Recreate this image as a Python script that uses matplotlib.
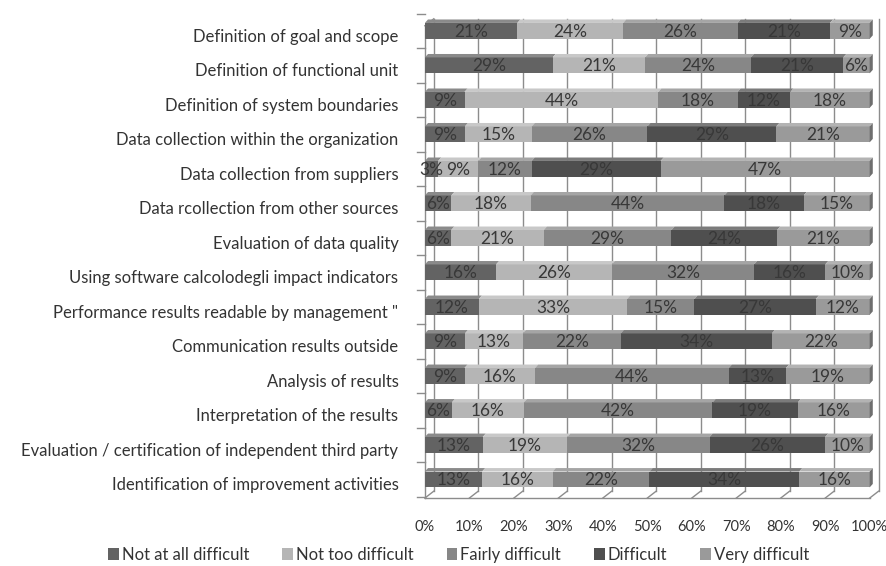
import numpy as np
import matplotlib.pyplot as plt
from matplotlib.patches import Polygon, Patch
from matplotlib.colors import to_rgb

plt.rcParams['font.family'] = ['Lato', 'DejaVu Sans']

categories = [
    "Definition of goal and scope",
    "Definition of functional unit",
    "Definition of system boundaries",
    "Data collection within the organization",
    "Data collection from suppliers",
    "Data rcollection from other sources",
    "Evaluation of data quality",
    "Using software calcolodegli impact indicators",
    "Performance results readable by management \"",
    "Communication results outside",
    "Analysis of results",
    "Interpretation of the results",
    "Evaluation / certification of independent third party",
    "Identification of improvement activities",
]
series_names = ["Not at all difficult", "Not too difficult", "Fairly difficult",
                "Difficult", "Very difficult"]
not_at_all = [21, 29, 9, 9, 3, 6, 6, 16, 12, 9, 9, 6, 13, 13]
not_too = [24, 21, 44, 15, 9, 18, 21, 26, 33, 13, 16, 16, 19, 16]
fairly = [26, 24, 18, 26, 12, 44, 29, 32, 15, 22, 44, 42, 32, 22]
difficult = [21, 21, 12, 29, 29, 18, 24, 16, 27, 34, 13, 19, 26, 34]
very = [9, 6, 18, 21, 47, 15, 21, 10, 12, 22, 19, 16, 10, 16]
xticks = ["0%", "10%", "20%", "30%", "40%", "50%", "60%", "70%", "80%", "90%", "100%"]

colors = ["#636363", "#b5b5b5", "#878787", "#4f4f4f", "#9a9a9a"]


def lighter(c, f=0.25):
    r, g, b = to_rgb(c)
    return (r + (1 - r) * f, g + (1 - g) * f, b + (1 - b) * f)


def main():
    data = np.array([not_at_all, not_too, fairly, difficult, very], dtype=float)
    shares = data / data.sum(axis=0)
    n = len(categories)
    ypos = np.arange(n)

    fig = plt.figure(figsize=(8.87, 5.66), dpi=100)
    ax = fig.add_axes([0.479, 0.12, 0.514, 0.859])
    ax.set_xlim(0, 1.025)
    ax.set_ylim(13.54, -0.55)

    h = 0.46
    dx, dy = 0.007, 0.1
    wdx, wdy = 0.02, 0.2
    ybot, ytop = 13.54, -0.35

    # back wall gridlines and floor
    for k in range(11):
        x = k / 10
        ax.plot([x + wdx, x + wdx], [ybot - wdy, ytop], color="#8c8c8c", lw=1, zorder=1)
        ax.plot([x, x + wdx], [ybot, ybot - wdy], color="#8c8c8c", lw=1, zorder=1, clip_on=False)
    ax.plot([0, 1], [ybot, ybot], color="#8c8c8c", lw=1, clip_on=False)
    ax.plot([0, 0], [ybot, ytop + wdy], color="#8c8c8c", lw=1, clip_on=False)
    ax.plot([0, wdx], [ytop + wdy, ytop], color="#8c8c8c", lw=1, clip_on=False)
    for b in np.arange(-0.5, n, 1.0):
        ax.plot([-0.018, 0], [b, b], color="#8c8c8c", lw=1, clip_on=False)

    left = np.zeros(n)
    for s in range(5):
        w = shares[s]
        ax.barh(ypos, w, left=left, height=h, color=colors[s], zorder=3)
        for i in range(n):
            x0, x1 = left[i], left[i] + w[i]
            yt = ypos[i] - h / 2
            top = Polygon([[x0, yt], [x1, yt], [x1 + dx, yt - dy], [x0 + dx, yt - dy]],
                          closed=True, facecolor=lighter(colors[s]), edgecolor="none", zorder=3)
            ax.add_patch(top)
            if s == 4:
                side = Polygon([[x1, yt], [x1 + dx, yt - dy], [x1 + dx, ypos[i] + h / 2 - dy],
                                [x1, ypos[i] + h / 2]], closed=True,
                               facecolor="#6e6e6e", edgecolor="none", zorder=3)
                ax.add_patch(side)
            ax.text((x0 + x1) / 2, ypos[i] + 0.02, f"{int(data[s, i])}%", ha="center",
                    va="center", fontsize=12.5, color="#383838", zorder=4)
        left = left + w

    ax.set_yticks(ypos + 0.12)
    ax.set_yticklabels(categories, fontsize=12, color="#333333")
    ax.set_xticks(np.arange(0, 1.01, 0.1))
    ax.set_xticklabels(xticks, fontsize=10.5, color="#333333")
    ax.tick_params(axis="y", length=0, pad=19)
    ax.tick_params(axis="x", length=0, pad=16)
    for sp in ax.spines.values():
        sp.set_visible(False)

    handles = [Patch(facecolor=c, edgecolor="none") for c in colors]
    fig.legend(handles, series_names, loc="lower center", bbox_to_anchor=(0.517, -0.021),
               ncol=5, frameon=False, fontsize=12, handlelength=0.65, handleheight=0.65,
               handletextpad=0.15, columnspacing=2.0, labelcolor="#333333")

    fig.savefig("out.png", dpi=100)


if __name__ == "__main__":
    main()
